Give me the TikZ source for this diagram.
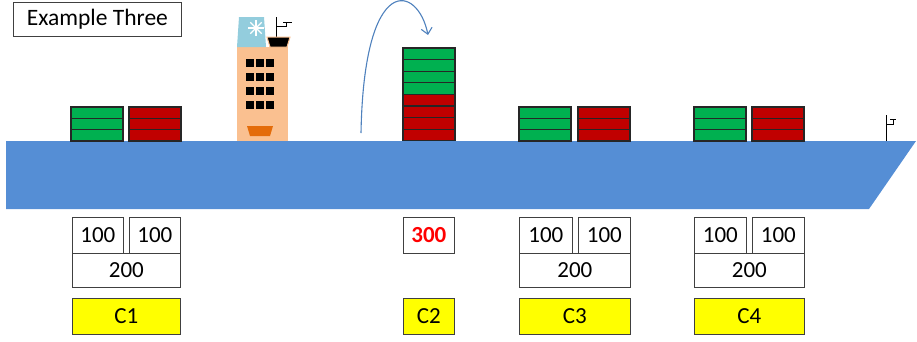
\documentclass[tikz,border=0pt]{standalone}
\usepackage{fontspec}
\setmainfont{Carlito}
\usetikzlibrary{arrows.meta,calc}

\definecolor{hullblue}{RGB}{85,142,213}
\definecolor{boxgreen}{RGB}{0,176,80}
\definecolor{boxred}{RGB}{192,0,0}
\definecolor{peach}{RGB}{250,192,144}
\definecolor{skyblue}{RGB}{147,205,221}
\definecolor{boatorange}{RGB}{228,108,10}
\definecolor{arrowblue}{RGB}{79,129,189}
\definecolor{labelyellow}{RGB}{255,255,0}

\begin{document}
\begin{tikzpicture}[x=1pt,y=-1pt,
  greenbox/.style={fill=boxgreen,draw=black!85,line width=1.3pt},
  redbox/.style={fill=boxred,draw=black!85,line width=1.3pt},
  numbox/.style={draw=black!75,line width=0.8pt,anchor=north west,inner sep=0pt,
    minimum height=36pt,font=\fontsize{23}{26}\selectfont},
  namebox/.style={numbox,fill=labelyellow},
  flow/.style={draw=arrowblue,line width=1.1pt,-{Straight Barb[length=6pt,width=11pt]}}]
  \useasboundingbox (0,0) rectangle (917,341);

  % title
  \node[numbox,minimum width=168pt,minimum height=34pt,
    font=\fontsize{23.5}{26}\selectfont] (title) at (13,2) {Example Three};

  % hull
  \fill[hullblue] (6,141) -- (916,141) -- (869,209) -- (6,209) -- cycle;

  % bow flag
  \draw[line width=0.8pt] (886,141) -- (886,115);
  \draw[line width=0.8pt] (886,124) -- (893,124) -- (893,119);
  \draw[line width=0.8pt] (890,119) -- (896,119);

  % bridge
  \fill[peach] (237,47) rectangle (288,141);
  \fill[skyblue] (239,17) -- (264,17) -- (266,47) -- (237,47) -- cycle;
  \foreach \a in {0,45,...,135}
    \draw[white,line width=1.3pt] ($(256,28)+(\a:8)$) -- ($(256,28)+(\a+180:8)$);
  \fill[white] (256,28) circle (2.5);
  \draw[line width=0.8pt] (276,37) -- (276,17);
  \draw[line width=0.8pt] (276,26) -- (286,26) -- (286,22);
  \draw[line width=0.8pt] (283,22) -- (292,22);
  \filldraw[fill=black,draw=peach,line width=1pt] (267,37) -- (290,37) -- (287,47) -- (270,47) -- cycle;
  \foreach \x in {246,256,266}
    \foreach \y in {59,73,87,101}
      \fill (\x,\y) rectangle +(8,8);
  \fill[boatorange] (247,126) -- (273,126) -- (270,136) -- (250,136) -- cycle;

  % containers on deck
  \foreach \x in {71,519,694}
    \foreach \i in {0,1,2}
      \draw[greenbox] (\x,{107+\i*11.33}) rectangle +(52,11.33);
  \foreach \x in {129,578,752}
    \foreach \i in {0,1,2}
      \draw[redbox] (\x,{107+\i*11.33}) rectangle +(52,11.33);

  % merged stack
  \foreach \i in {0,...,3}
    \draw[greenbox] (403,{48+\i*11.6}) rectangle +(52,11.6);
  \foreach \i in {4,...,7}
    \draw[redbox] (403,{48+\i*11.6}) rectangle +(52,11.6);

  % lift arrow
  \coordinate (lift) at (361,133);
  \coordinate (drop) at (428,35);
  \draw[flow] (lift) .. controls (364,-30) and (418,-15) .. (drop);

  % weights and names
  \node[numbox,minimum width=51pt] (a1) at (72,217) {100};
  \node[numbox,minimum width=51pt] (b1) at (129,217) {100};
  \node[numbox,minimum width=108pt,minimum height=34pt] (s1) at (72,253) {200};
  \node[namebox,minimum width=108pt] (c1) at (72,298) {C1};

  \node[numbox,minimum width=51pt,text=red,font=\fontsize{23}{26}\selectfont\bfseries] (s2) at (403,217) {300};
  \node[namebox,minimum width=51pt] (c2) at (403,298) {C2};

  \node[numbox,minimum width=53pt] (a3) at (519,217) {100};
  \node[numbox,minimum width=52pt] (b3) at (578,217) {100};
  \node[numbox,minimum width=111pt,minimum height=34pt] (s3) at (519,253) {200};
  \node[namebox,minimum width=111pt] (c3) at (519,298) {C3};

  \node[numbox,minimum width=52pt] (a4) at (694,217) {100};
  \node[numbox,minimum width=52pt] (b4) at (752,217) {100};
  \node[numbox,minimum width=110pt,minimum height=34pt] (s4) at (694,253) {200};
  \node[namebox,minimum width=110pt] (c4) at (694,298) {C4};
\end{tikzpicture}
\end{document}
